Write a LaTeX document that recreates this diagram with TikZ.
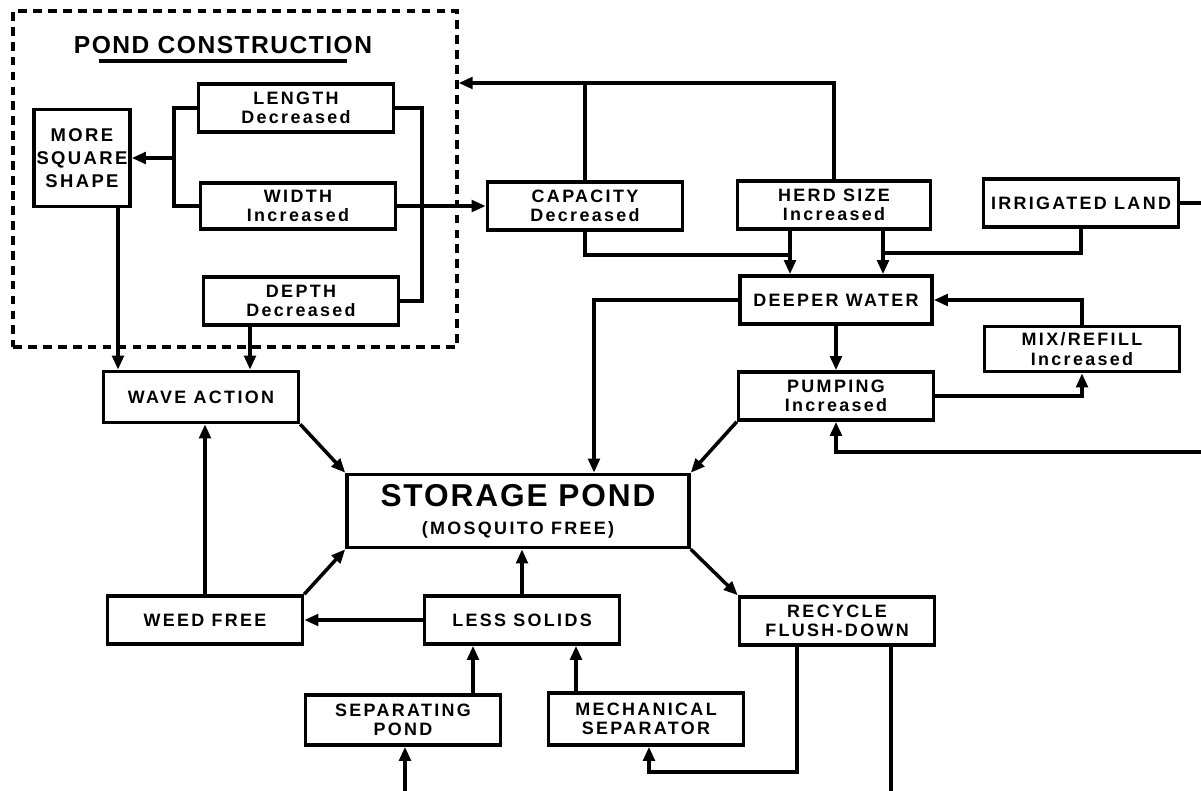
\documentclass[tikz,border=0pt]{standalone}
\usepackage{fontspec}
\newfontfamily\boxfont[LetterSpace=13]{Liberation Sans}
\newfontfamily\bigfont[LetterSpace=6]{Liberation Sans}
\usepackage{tikz}
\usetikzlibrary{arrows.meta,calc}

\begin{document}
\begin{tikzpicture}[
  x=0.02cm,y=-0.02cm,
  font=\boxfont\bfseries\fontsize{10.2}{11}\selectfont,
  box/.style={draw,line width=2pt,minimum width=3.9cm,minimum height=0.96cm,align=center,inner sep=1pt},
  line/.style={line width=2pt},
  arr/.style={-{Triangle[length=8pt,width=6.5pt]},line width=2pt},
  pondframe/.style={draw,line width=1.8pt,dash pattern=on 5pt off 3.5pt,minimum width=8.88cm,minimum height=6.72cm}
]
\useasboundingbox (0,0) rectangle (1201,791);

% pond construction
\node[pondframe] (pond) at (235,179) {};
\node[font=\bigfont\bfseries\fontsize{14}{16}\selectfont,inner sep=0,anchor=base] (title) at (223,53) {POND CONSTRUCTION};
\draw[line] ($(title.base west)+(25,8)$) -- ($(title.base east)+(-25,8)$);
\node[box,minimum width=1.92cm,minimum height=1.94cm,inner sep=0pt,font=\boxfont\bfseries\fontsize{10.5}{13}\selectfont] (square) at (82,158) {MORE\\SQUARE\\SHAPE};
\node[box] (length) at (296,108) {LENGTH\\Decreased};
\node[box,minimum height=0.92cm] (width) at (298,206) {WIDTH\\Increased};
\node[box] (depth) at (301,301) {DEPTH\\Decreased};

% upper right
\node[box] (capacity) at (585,206) {CAPACITY\\Decreased};
\node[box,minimum width=3.86cm] (herd) at (834,205) {HERD SIZE\\Increased};
\node[box] (irrigated) at (1081,203) {IRRIGATED LAND};
\node[box,minimum width=3.84cm] (deeper) at (836,300) {DEEPER WATER};
\node[box,minimum height=0.9cm] (mix) at (1082,349) {MIX/REFILL\\Increased};
\node[box] (pumping) at (836,396) {PUMPING\\Increased};

% centre and below
\node[box,minimum height=1.02cm] (wave) at (201,397) {WAVE ACTION};
\node[box,minimum width=6.84cm,minimum height=1.46cm] (storage) at (518,511)
  {{\bigfont\bfseries\fontsize{18}{20}\selectfont STORAGE POND}\\[5pt](MOSQUITO FREE)};
\node[box] (weed) at (205,620) {WEED FREE};
\node[box] (less) at (522,620) {LESS SOLIDS};
\node[box] (recycle) at (837,621) {RECYCLE\\FLUSH-DOWN};
\node[box,minimum height=1cm] (seppond) at (403,720) {SEPARATING\\POND};
\node[box,minimum height=1.04cm] (mech) at (646,719) {MECHANICAL\\SEPARATOR};

% helper points
\coordinate (ytop) at (0,83);
\coordinate (lbrk) at (174,158);
\coordinate (rbrk) at (422,200);
\coordinate (hl) at (790,255);
\coordinate (hr) at (883,253);
\coordinate (sin) at (594,0);
\coordinate (rin) at (1201,452);
\coordinate (rout) at (1201,203);
\coordinate (sqx) at (118,0);
\coordinate (dpx) at (250,0);
\coordinate (spx) at (473,0);
\coordinate (mcx) at (576,0);
\coordinate (rcl) at (797,772);
\coordinate (mcb) at (649,0);
\coordinate (rcr) at (891,791);
\coordinate (spin) at (405,791);

% connectors
\draw[line] (length.west) -| (lbrk) |- (width.west);
\draw[arr] (lbrk) -- (square.east);
\draw[line] (length.east) -| (rbrk) |- (depth.east);
\draw[arr] (width.east) -- (capacity.west);
\draw[arr] (herd.north) |- (pond.east |- ytop);
\draw[line] (capacity.north) -- (capacity.north |- ytop);
\draw[line] (capacity.south) |- (hl);
\draw[arr] (herd.south -| hl) -- (deeper.north -| hl);
\draw[arr] (herd.south -| hr) -- (deeper.north -| hr);
\draw[line] (irrigated.south) |- (hr);
\draw[line] (irrigated.east) -- (rout);
\draw[arr] (deeper.west) -| (storage.north -| sin);
\draw[arr] (mix.north) |- (deeper.east);
\draw[arr] (deeper.south) -- (pumping.north);
\draw[arr] (pumping.east) -| (mix.south);
\draw[arr] (rin) -| (pumping.south);
\draw[arr] (pumping.south west) -- (storage.north east);
\draw[arr] (wave.south east) -- (storage.north west);
\draw[arr] (square.south -| sqx) -- (wave.north -| sqx);
\draw[arr] (depth.south -| dpx) -- (wave.north -| dpx);
\draw[arr] (weed.north) -- (wave.south -| weed.north);
\draw[arr] (weed.north east) -- (storage.south west);
\draw[arr] (less.north) -- (storage.south -| less.north);
\draw[arr] (less.west) -- (weed.east);
\draw[arr] (seppond.north -| spx) -- (less.south -| spx);
\draw[arr] (mech.north -| mcx) -- (less.south -| mcx);
\draw[arr] (storage.south east) -- (recycle.north west);
\draw[arr] (recycle.south -| rcl) -- (rcl) -| (mech.south -| mcb);
\draw[line] (recycle.south -| rcr) -- (rcr);
\draw[arr] (spin) -- (seppond.south -| spin);
\end{tikzpicture}
\end{document}
